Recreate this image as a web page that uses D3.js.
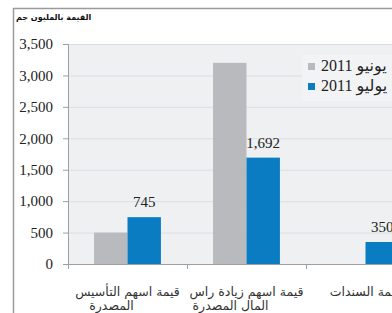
<!DOCTYPE html>
<html>
<head>
<meta charset="utf-8">
<script src="https://cdnjs.cloudflare.com/ajax/libs/d3/7.8.5/d3.min.js"></script>
<style>
  body { margin: 0; background: #fff; }
  svg { display: block; }
</style>
</head>
<body>
<svg id="chart" width="392" height="313"></svg>
<script>
// data
let categories = ["قيمة اسهم التأسيس|المصدرة", "قيمة اسهم زيادة راس|المال المصدرة", "قيمة السندات"];
let seriesNames = ["يونيو 2011", "يوليو 2011"];
let june = [500, 3200, 0];
let july = [745, 1692, 350];
let yTicks = [0, 500, 1000, 1500, 2000, 2500, 3000, 3500];
let colors = ["#b8babd", "#0a7cc1"];

let svg = d3.select("#chart");
let plotLeft = 68, plotTop = 44, plotBottom = 264;

// frame lines
svg.append("line").attr("x1", 13).attr("x2", 392).attr("y1", 8.5).attr("y2", 8.5)
    .attr("stroke", "#9a9a9a").attr("stroke-width", 1.5);
svg.append("line").attr("x1", 13.5).attr("x2", 13.5).attr("y1", 8).attr("y2", 313)
    .attr("stroke", "#9a9a9a").attr("stroke-width", 1.5);

svg.append("text")
    .attr("x", 16).attr("y", 20)
    .attr("font-family", "DejaVu Sans").attr("font-weight", "bold")
    .attr("font-size", 8).attr("fill", "#111")
    .attr("text-anchor", "start")
    .text("القيمة بالمليون جم");

let yScale = d3.scaleLinear().domain([0, 3500]).range([plotBottom, plotTop]);

let xScale = d3.scaleBand()
    .domain(categories)
    .range([plotLeft, plotLeft + 3 * 119]);

let xSub = d3.scaleBand()
    .domain([0, 1])
    .range([0, xScale.bandwidth()])
    .paddingOuter(0.78);

// plot background
svg.append("rect")
    .attr("x", plotLeft).attr("y", plotTop)
    .attr("width", 392 - plotLeft).attr("height", plotBottom - plotTop)
    .attr("fill", "#eef0f2");

// gridlines
svg.selectAll(".grid")
    .data(yTicks.slice(1))
    .enter().append("line")
    .attr("class", "grid")
    .attr("x1", plotLeft).attr("x2", 392)
    .attr("y1", d => yScale(d) + 0.5).attr("y2", d => yScale(d) + 0.5)
    .attr("stroke", "#dcdfe2");

// legend box
svg.append("rect")
    .attr("x", 302).attr("y", 55).attr("width", 90).attr("height", 46)
    .attr("fill", "#f2f3f5");

// bars
let g = svg.append("g");
[june, july].forEach((vals, s) => {
    g.selectAll(".bar" + s)
        .data(categories.map((c, i) => ({ c: c, v: vals[i] })))
        .enter().append("rect")
        .attr("class", "bar" + s)
        .attr("x", d => xScale(d.c) + xSub(s))
        .attr("y", d => yScale(d.v))
        .attr("width", xSub.bandwidth())
        .attr("height", d => plotBottom - yScale(d.v))
        .attr("fill", colors[s]);
});

// value labels on the july bars
g.selectAll(".val")
    .data(categories.map((c, i) => ({ c: c, v: july[i] })))
    .enter().append("text")
    .attr("class", "val")
    .attr("x", d => xScale(d.c) + xSub(1) + xSub.bandwidth() / 2)
    .attr("y", d => yScale(d.v) - 10)
    .attr("text-anchor", "middle")
    .attr("font-family", "Liberation Serif")
    .attr("font-size", 15).attr("fill", "#222")
    .text(d => d3.format(",")(d.v));

// y axis
let yAxis = d3.axisLeft(yScale).tickValues(yTicks).tickFormat(d3.format(",")).tickSize(5).tickPadding(10);
let ya = svg.append("g").attr("transform", "translate(" + plotLeft + ",0)").call(yAxis);
ya.select(".domain").attr("stroke", "#9aa0a6");
ya.selectAll(".tick line").attr("stroke", "#9aa0a6");
ya.selectAll("text").attr("font-family", "Liberation Serif").attr("font-size", 15).attr("fill", "#222");

// x axis
let xa = svg.append("g").attr("transform", "translate(0," + plotBottom + ")");
xa.append("line").attr("x1", plotLeft - 5).attr("x2", 392).attr("y1", 0.5).attr("y2", 0.5).attr("stroke", "#9aa0a6");
xa.selectAll(".xt")
    .data(categories)
    .enter().append("line")
    .attr("class", "xt")
    .attr("x1", d => xScale(d) + 0.5).attr("x2", d => xScale(d) + 0.5)
    .attr("y1", 0).attr("y2", 5)
    .attr("stroke", "#9aa0a6");

let labels = xa.selectAll(".xl")
    .data(categories)
    .enter().append("text")
    .attr("class", "xl")
    .attr("text-anchor", "middle")
    .attr("font-family", "DejaVu Sans")
    .attr("font-size", 12.5).attr("fill", "#333");
labels.each(function(d) {
    let parts = d.split("|");
    let t = d3.select(this);
    parts.forEach((p, i) => {
        t.append("tspan")
            .attr("x", xScale(d) + xScale.bandwidth() / 2 - (i ? 16 : 0))
            .attr("y", 32 + i * 14)
            .text(p);
    });
});

// legend
let lg = svg.append("g").attr("transform", "translate(308,63)");
seriesNames.forEach((name, i) => {
    lg.append("rect").attr("x", 0).attr("y", i * 20)
        .attr("width", 7).attr("height", 7).attr("fill", colors[i]);
    lg.append("text").attr("x", 13).attr("y", i * 20 + 8)
        .attr("font-family", "Liberation Serif, DejaVu Sans")
        .attr("font-size", 16).attr("fill", "#222")
        .attr("direction", "ltr")
        .text("2011 " + name.replace(" 2011", ""));
});
</script>
</body>
</html>
